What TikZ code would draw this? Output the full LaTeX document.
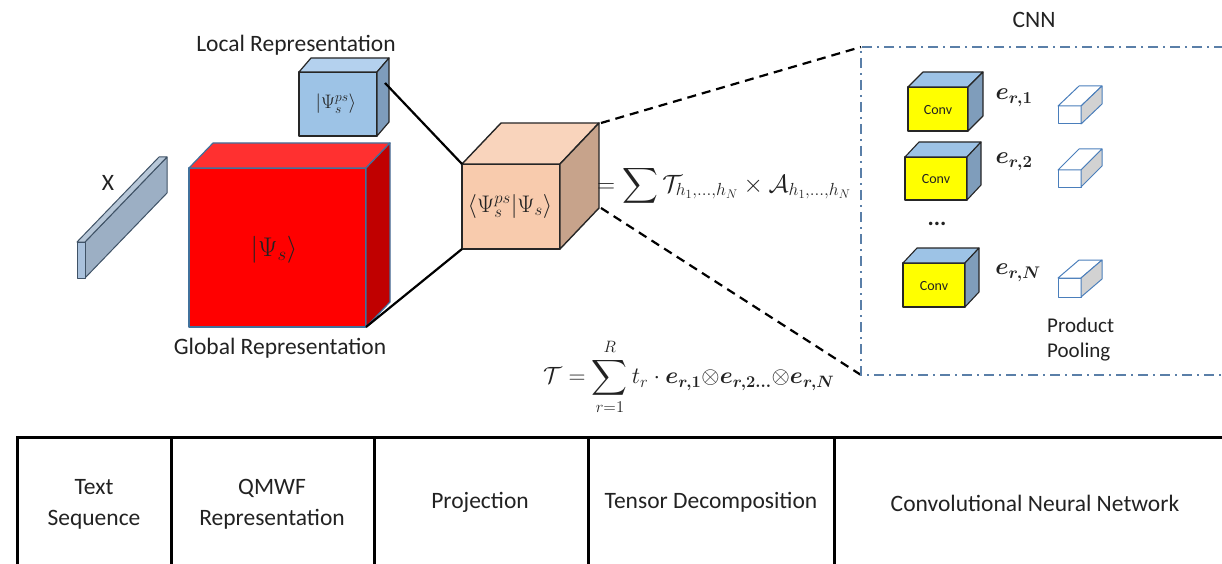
\RequirePackage{fix-cm}
\documentclass[tikz,border=0pt]{standalone}
\usepackage{fontspec}
\setmainfont{Carlito}
\usepackage{amsmath,bm}
\definecolor{barfill}{HTML}{9CAFC4}
\definecolor{bartop}{HTML}{B7C7D8}
\definecolor{barfront}{HTML}{A9C1DC}
\definecolor{bardraw}{HTML}{3F5266}
\definecolor{lfront}{HTML}{9DC3E6}
\definecolor{ltop}{HTML}{B4D1EE}
\definecolor{lside}{HTML}{7E9CBC}
\definecolor{rfront}{HTML}{FF0000}
\definecolor{rtop}{HTML}{FF3030}
\definecolor{rside}{HTML}{C00000}
\definecolor{rdraw}{HTML}{41719C}
\definecolor{ofront}{HTML}{F8CBAD}
\definecolor{otop}{HTML}{F9D4BC}
\definecolor{oside}{HTML}{C7A38B}
\definecolor{cfront}{HTML}{FFFF00}
\definecolor{ctop}{HTML}{9DC3E6}
\definecolor{cside}{HTML}{7F9DBB}
\definecolor{pside}{HTML}{D2D2D2}
\definecolor{pdraw}{HTML}{4A7EBB}
\definecolor{cnnblue}{HTML}{5A7FA8}
\definecolor{txt}{HTML}{222222}
% #1 x, #2 y (front top-left), #3 w, #4 h, #5 dx, #6 dy (up), #7 front, #8 top, #9 side
\newcommand{\cuboid}[9]{%
  \filldraw[fill=#7] (#1,#2) rectangle (#1+#3,#2+#4);
  \filldraw[fill=#8] (#1,#2) -- (#1+#5,#2-#6) -- (#1+#3+#5,#2-#6) -- (#1+#3,#2) -- cycle;
  \filldraw[fill=#9] (#1+#3,#2) -- (#1+#3+#5,#2-#6) -- (#1+#3+#5,#2+#4-#6) -- (#1+#3,#2+#4) -- cycle;
}
\begin{document}
\begin{tikzpicture}[x=1pt,y=-1pt,
  font=\fontsize{23.5}{31}\selectfont,
  solidcon/.style={line width=2.2pt, draw=black},
  dashcon/.style={line width=2.2pt, draw=black, dash pattern=on 9pt off 6pt},
  cnnframe/.style={line width=1.8pt, draw=cnnblue, dash pattern=on 10pt off 5pt on 2pt off 5pt},
  tabline/.style={line width=3pt, draw=black},
  lbl/.style={inner sep=0pt, text=txt},
]
\useasboundingbox (0,0) rectangle (1222,564);

% X bar
\begin{scope}[draw=bardraw, line width=1pt, line join=round]
  \filldraw[fill=barfill] (85,242) -- (167,157) -- (167,193) -- (85,278) -- cycle;
  \filldraw[fill=bartop] (77,242) -- (159,157) -- (167,157) -- (85,242) -- cycle;
  \filldraw[fill=barfront] (77,242) rectangle (85,278);
\end{scope}

% global representation cube
\begin{scope}[draw=rdraw, line width=1.2pt, line join=round]
  \cuboid{189}{168}{177}{159}{24}{25}{rfront}{rtop}{rside}
\end{scope}
% local representation cube
\begin{scope}[draw=black!85, line width=1.2pt, line join=round]
  \cuboid{299}{72}{78}{64}{12}{14}{lfront}{ltop}{lside}
\end{scope}
% projection cube
\begin{scope}[draw=black!85, line width=1.4pt, line join=round]
  \cuboid{462}{164}{98}{85}{39}{41}{ofront}{otop}{oside}
\end{scope}

% conv cubes
\begin{scope}[draw=black!85, line width=1.1pt, line join=round]
  \cuboid{908}{87}{60}{44}{15}{15}{cfront}{ctop}{cside}
  \cuboid{905}{157}{62}{43}{14}{15}{cfront}{ctop}{cside}
  \cuboid{903}{263}{62}{44}{14}{15}{cfront}{ctop}{cside}
\end{scope}
% pooling cubes
\begin{scope}[draw=pdraw, line width=1pt, line join=round]
  \cuboid{1058}{106}{23}{18}{21}{20}{white}{white}{pside}
  \cuboid{1058}{170}{23}{17}{21}{21}{white}{white}{pside}
  \cuboid{1058}{278}{23}{19}{21}{18}{white}{white}{pside}
\end{scope}

% connector end points
\coordinate (locR) at (385,83);
\coordinate (projTL) at (462,164);
\coordinate (globBR) at (366,327);
\coordinate (projBL) at (462,249);
\coordinate (projTR) at (601,123);
\coordinate (projBR) at (601,208);
\coordinate (cnnTL) at (861,47);
\coordinate (cnnBL) at (861,375);
\coordinate (cnnTR) at (1224,47);
\coordinate (cnnBR) at (1224,375);

\draw[solidcon] (locR) -- (projTL);
\draw[solidcon] (globBR) -- (projBL);
\draw[dashcon] (projTR) -- (cnnTL);
\draw[dashcon] (projBR) -- (cnnBL);
\draw[cnnframe] (cnnTR) -- (cnnTL) -- (cnnBL) -- (cnnBR);

% labels
\node[lbl] (lrep) at (296,45) {Local Representation};
\node[lbl] (grep) at (280,348) {Global Representation};
\node[lbl] (xl) at (108,183) {X};
\node[lbl, font=\fontsize{27}{27}\selectfont] (psis) at (274,250) {$|\Psi_s\rangle$};
\node[lbl, font=\fontsize{19.5}{20}\selectfont] (psips) at (336,104) {$|\Psi_s^{ps}\rangle$};
\node[lbl, font=\fontsize{24}{24}\selectfont] (proj) at (510,206) {$\langle\Psi_s^{ps}|\Psi_s\rangle$};
\node[lbl, anchor=west, font=\fontsize{25}{25}\selectfont] (eq1) at (597,186) {$\displaystyle =\sum \mathcal{T}_{h_1,\ldots,h_N}\times\mathcal{A}_{h_1,\ldots,h_N}$};
\node[lbl, anchor=west, font=\fontsize{23.5}{23.5}\selectfont] (eq2) at (543,377) {$\displaystyle \mathcal{T}=\sum_{r=1}^{R} t_r\cdot \bm{e_{r,1}}{\otimes}\bm{e_{r,2\ldots}}{\otimes}\bm{e_{r,N}}$};

\node[lbl] (cnn) at (1034,20) {CNN};
\node[lbl, font=\fontsize{14}{14}\selectfont] (c1) at (938,110) {Conv};
\node[lbl, font=\fontsize{14}{14}\selectfont] (c2) at (936,179) {Conv};
\node[lbl, font=\fontsize{14}{14}\selectfont] (c3) at (934,286) {Conv};
\node[lbl, font=\fontsize{24}{24}\selectfont] (e1) at (1014,98) {$\bm{e_{r,1}}$};
\node[lbl, font=\fontsize{24}{24}\selectfont] (e2) at (1014,162) {$\bm{e_{r,2}}$};
\node[lbl, font=\fontsize{24}{24}\selectfont] (eN) at (1018,273) {$\bm{e_{r,N}}$};
\node[lbl] (dots) at (937,224) {\textbf{...}};
\node[lbl, align=left, anchor=west, font=\fontsize{21}{25}\selectfont] (pp) at (1047,340) {Product\\Pooling};

% table
\coordinate (t0) at (17,437);
\coordinate (tR) at (1224,437);
\draw[tabline] (17,566) -- (t0) -- (tR);
\draw[tabline] (171,437) -- (171,566);
\draw[tabline] (374,437) -- (374,566);
\draw[tabline] (588,437) -- (588,566);
\draw[tabline] (834,437) -- (834,566);
\node[lbl, align=center] (ts) at (94,504) {Text\\Sequence};
\node[lbl, align=center] (qr) at (272,504) {QMWF\\Representation};
\node[lbl] (pr) at (480,502) {Projection};
\node[lbl] (td) at (711,502) {Tensor Decomposition};
\node[lbl] (cn) at (1035,503) {Convolutional Neural Network};
\end{tikzpicture}
\end{document}
